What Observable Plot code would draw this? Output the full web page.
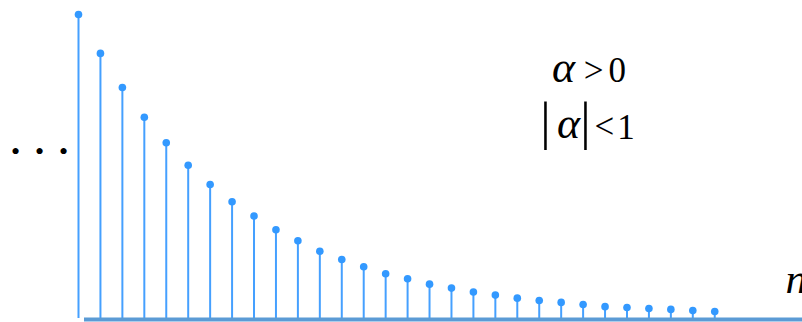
<!DOCTYPE html>
<html>
<head>
<meta charset="utf-8">
<script src="https://cdn.jsdelivr.net/npm/d3@7"></script>
<script src="https://cdn.jsdelivr.net/npm/@observablehq/plot@0.6"></script>
<style>
  html, body { margin: 0; padding: 0; background: #ffffff; }
</style>
</head>
<body>
<div id="chart"></div>
<script>
// Sample index n and the decaying sequence x[n] = α^n (0 < α < 1)
const n = d3.range(0, 30);
const xn = [
  1.000, 0.872, 0.760, 0.662, 0.578, 0.504, 0.441, 0.384, 0.337, 0.292,
  0.256, 0.221, 0.194, 0.170, 0.147, 0.131, 0.113, 0.100, 0.087, 0.077,
  0.067, 0.059, 0.053, 0.046, 0.039, 0.036, 0.033, 0.030, 0.026, 0.023
];
const samples = n.map((k, i) => ({n: k, x: xn[i]}));

const stemColor = "#45a0ff";
const dotColor = "#3399ff";
const axisColor = "#5b9bd5";

// One piece of math text, anchored in data space (n, x[n])
const label = (text, x, y, fontSize, extra = {}) =>
  Plot.text([text], {x, y, textAnchor: "middle", fontSize,
    fontFamily: "Liberation Serif", fill: "#000", ...extra});

const chart = Plot.plot({
  width: 802,
  height: 322,
  marginLeft: 78,
  marginRight: 0,
  marginTop: 14,
  marginBottom: 4,
  x: {domain: [0, 33], axis: null},
  y: {domain: [0, 1], axis: null},
  marks: [
    // stems
    Plot.ruleX(samples, {x: "n", y1: 0, y2: "x", stroke: stemColor, strokeWidth: 2}),
    // horizontal n axis
    Plot.ruleY([0], {stroke: axisColor, strokeWidth: 4, dy: 1, insetLeft: 6}),
    // sample heads
    Plot.dot(samples, {x: "n", y: "x", r: 3.8, fill: dotColor, stroke: "none"}),
    // leading ellipsis (the sequence continues to the left)
    label("•", -0.684, 0.5503, 26),
    label("•", -1.778, 0.5503, 26),
    label("•", -2.872, 0.5503, 26),
    // α > 0
    label("α", 22.106, 0.8227, 44, {fontStyle: "italic"}),
    label(">", 23.474, 0.8164, 35),
    label("0", 24.554, 0.8132, 35),
    // |α| < 1
    label("|", 21.286, 0.6467, 52),
    label("α", 22.334, 0.6385, 44, {fontStyle: "italic"}),
    label("|", 23.109, 0.6467, 52),
    label("<", 23.975, 0.6322, 35),
    label("1", 24.955, 0.6289, 35),
    // axis label n
    label("n", 32.225, 0.1276, 43, {fontStyle: "italic", textAnchor: "start"})
  ]
});

document.getElementById("chart").appendChild(chart);
</script>
</body>
</html>
